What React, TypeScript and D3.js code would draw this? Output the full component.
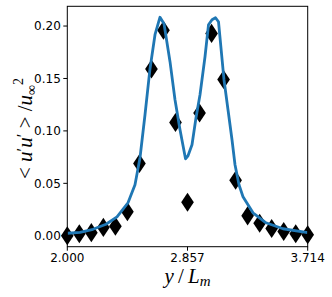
import * as d3 from "d3";

// measured points (diamonds)
const pointX = [2.0, 2.0857, 2.1714, 2.2571, 2.3429, 2.4286, 2.5143, 2.6, 2.6857, 2.7714, 2.8571,
  2.9429, 3.0286, 3.1143, 3.2, 3.2857, 3.3714, 3.4571, 3.5429, 3.6286, 3.714];
const pointY = [0.0, 0.002, 0.003, 0.008, 0.009, 0.023, 0.069, 0.159, 0.196, 0.108, 0.032,
  0.117, 0.193, 0.149, 0.053, 0.019, 0.012, 0.007, 0.004, 0.002, 0.001];

// model curve
const lineX = [2.0, 2.0905, 2.1832, 2.2759, 2.3544, 2.4328, 2.4827, 2.5184, 2.554, 2.5897, 2.6253,
  2.661, 2.6895, 2.7323, 2.7679, 2.8036, 2.8428, 2.8606, 2.8891, 2.9176, 2.9462, 2.9818, 3.0067,
  3.0317, 3.0567, 3.078, 3.1172, 3.1458, 3.1743, 3.1957, 3.2242, 3.2527, 3.324, 3.4167, 3.5379, 3.714];
const lineY = [0.0024, 0.0033, 0.0062, 0.011, 0.0181, 0.0315, 0.0486, 0.0744, 0.1154, 0.1593, 0.1917,
  0.2084, 0.2022, 0.166, 0.1297, 0.1011, 0.0734, 0.0763, 0.0868, 0.1125, 0.1345, 0.1707, 0.2012,
  0.206, 0.2079, 0.2041, 0.1488, 0.1202, 0.0916, 0.0677, 0.0486, 0.0372, 0.0219, 0.0124, 0.0067, 0.0031];

const xTicks = [2.0, 2.857, 3.714];
const yTicks = [0.0, 0.05, 0.1, 0.15, 0.2];

export default function App() {
  const width = 332;
  const height = 297;
  const margin = { top: 6.3, right: 24.3, bottom: 50.3, left: 67.3 };

  const allY = [...pointY, ...lineY];
  const yMin = d3.min(allY)!;
  const yMax = d3.max(allY)!;
  const pad = (yMax - yMin) * 0.05;

  const x = d3.scaleLinear()
    .domain([2.0, 3.714])
    .range([margin.left, width - margin.right]);

  const y = d3.scaleLinear()
    .domain([yMin - pad, yMax + pad])
    .range([height - margin.bottom, margin.top]);

  const line = d3.line<number>()
    .x((d, i) => x(lineX[i]))
    .y(d => y(d));

  const diamond = d3.symbol().type(d3.symbolDiamond).size(105)();

  const font = "DejaVu Sans, sans-serif";
  const mathFont = "Liberation Serif, DejaVu Serif, serif";

  return (
    <svg width={width} height={height} style={{ position: "absolute", left: 0, top: 0, background: "#fff" }}>
      {/* y ticks */}
      {yTicks.map(t => (
        <g key={t} transform={`translate(${margin.left},${y(t)})`}>
          <line x1={-4} x2={0} stroke="#000" strokeWidth={1} />
          <text x={-6.5} dy="0.36em" textAnchor="end" fontSize={12} fontFamily={font} fill="#000">
            {d3.format(".2f")(t)}
          </text>
        </g>
      ))}

      {/* x ticks */}
      {xTicks.map(t => (
        <g key={t} transform={`translate(${x(t)},${height - margin.bottom})`}>
          <line y1={0} y2={4} stroke="#000" strokeWidth={1} />
          <text y={15.5} textAnchor="middle" fontSize={12} fontFamily={font} fill="#000">
            {d3.format(".3f")(t)}
          </text>
        </g>
      ))}

      {pointX.map((px, i) => (
        <path key={i} d={diamond!} transform={`translate(${x(px)},${y(pointY[i])}) scale(1.15,1)`} fill="#000" />
      ))}

      <path d={line(lineY)!} fill="none" stroke="#1f77b4" strokeWidth={2.8} strokeLinejoin="round" />

      <rect x={margin.left} y={margin.top}
        width={width - margin.left - margin.right}
        height={height - margin.top - margin.bottom}
        fill="none" stroke="#000" strokeWidth={1} />

      {/* axis labels */}
      <text x={(margin.left + width - margin.right) / 2} y={283} textAnchor="middle"
        fontSize={21} fontFamily={mathFont} fill="#000">
        <tspan fontStyle="italic">y</tspan>
        <tspan>{"\u2009/\u2009"}</tspan>
        <tspan fontStyle="italic">L</tspan>
        <tspan fontStyle="italic" fontSize={15} dy={3}>m</tspan>
      </text>

      <text transform={`translate(32,${(margin.top + height - margin.bottom) / 2 + 2}) rotate(-90)`}
        textAnchor="middle" fontSize={21} fontFamily={mathFont} fill="#000">
        <tspan>{"< "}</tspan>
        <tspan fontStyle="italic">u</tspan>
        <tspan fontSize={17} dy={-4}>′</tspan>
        <tspan fontStyle="italic" dy={4}>u</tspan>
        <tspan fontSize={17} dy={-4}>′</tspan>
        <tspan dy={4}>{" > /"}</tspan>
        <tspan fontStyle="italic">u</tspan>
        <tspan fontSize={14} dy={4}>∞</tspan>
        <tspan fontSize={14} dy={-13}>2</tspan>
      </text>
    </svg>
  );
}
